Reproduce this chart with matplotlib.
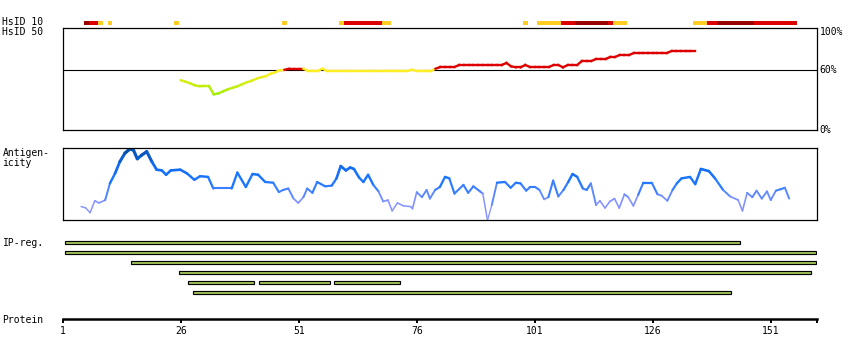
import numpy as np
import matplotlib
matplotlib.use('Agg')
import matplotlib.pyplot as plt
from matplotlib.collections import LineCollection
from matplotlib.colors import LinearSegmentedColormap

W, H = 850, 360
X0, X1 = 62.7, 817.0      # pixel span of the residue axis
XMAX = 160.8              # residue at right edge
OFF = 0.55                # bars/blocks start a bit right of the tick
FONT = 'DejaVu Sans Mono'
FS = 7

# HsID 10 blocks (residues, inclusive)
hsid10_start = [5, 6, 8, 10, 24, 47, 59, 60, 68, 98, 101, 106, 109, 116, 117, 134, 137, 139, 147]
hsid10_end = [5, 7, 8, 10, 24, 47, 59, 67, 69, 98, 105, 108, 115, 116, 119, 136, 138, 146, 155]
hsid10_level = ['dark', 'red', 'orange', 'orange', 'orange', 'orange', 'orange', 'red', 'orange',
                'orange', 'orange', 'red', 'dark', 'red', 'orange', 'orange', 'red', 'dark', 'red']

# HsID 50 (% identity), residues 26..135
hsid50_pos = list(range(26, 136))
hsid50_val = [50, 48.6, 47, 45, 44, 44, 44, 36, 37, 39,
              41, 42.5, 44, 46, 48, 49.5, 51.5, 53, 54, 56.5,
              58, 60, 60.5, 61.6, 61.6, 61.6, 61.6, 59.3, 59.3, 59.3,
              61.6, 59.3, 59.3, 59.3, 59.3, 59.3, 59.3, 59.3, 59.3, 59.3,
              59.3, 59.3, 59.3, 59.3, 59.3, 59.3, 59.3, 59.3, 59.3, 60.5,
              59.3, 59.3, 59.3, 59.3, 61.6, 63.3, 63.3, 63.3, 63.3, 65.3,
              65.3, 65.3, 65.3, 65.3, 65.3, 65.3, 65.3, 65.3, 65.3, 67.3,
              64, 63, 63, 65.3, 63.3, 63.3, 63.3, 63.3, 63.3, 65.3,
              65.3, 63, 65.3, 65.3, 65.3, 69.3, 69.3, 69.3, 71.3, 71.3,
              71.3, 73.3, 73.3, 75.3, 75.3, 75.3, 77.3, 77.3, 77.3, 77.3,
              77.3, 77.3, 77.3, 77.3, 79.3, 79.3, 79.3, 79.3, 79.3, 79.3]

# Antigenicity (relative 0..1)
ag_pos = [4.9, 5.9, 6.8, 7.8, 8.7, 10.0, 11.0, 12.1, 13.1, 14.2,
          15.3, 16.0, 16.8, 17.7, 18.8, 19.9, 20.9, 22.0, 22.9, 23.9,
          25.9, 27.3, 28.9, 30.1, 31.8, 32.9, 36.8, 38.0, 39.8, 41.2,
          42.4, 43.9, 45.6, 46.8, 47.7, 48.8, 49.9, 50.9, 52.0, 52.8,
          53.9, 54.9, 56.6, 58.0, 59.0, 59.9, 61.0, 61.9, 62.7, 63.8,
          64.7, 65.7, 66.8, 67.9, 68.9, 69.9, 70.8, 71.9, 73.2, 74.7,
          75.1, 76.0, 77.1, 78.1, 78.8, 79.9, 80.9, 82.0, 82.9, 84.0,
          85.9, 86.9, 88.0, 89.4, 90.0, 91.0, 91.9, 93.0, 94.7, 95.9,
          97.0, 98.0, 99.2, 100.0, 101.1, 102.0, 103.0, 103.9, 104.9, 106.0,
          107.1, 108.1, 109.0, 110.0, 111.2, 112.0, 112.9, 114.0, 114.8, 115.9,
          116.9, 117.9, 118.9, 120.0, 120.8, 121.9, 122.9, 124.0, 125.8, 127.0,
          127.9, 129.1, 130.2, 131.1, 132.1, 133.9, 135.0, 136.2, 137.9, 139.2,
          140.9, 142.4, 144.1, 145.0, 146.0, 147.1, 148.0, 149.1, 150.2, 151.0,
          152.1, 153.1, 154.0, 154.9]
ag_val = [0.19, 0.17, 0.105, 0.27, 0.24, 0.28, 0.51, 0.65, 0.81, 0.93,
          0.99, 0.97, 0.85, 0.90, 0.95, 0.81, 0.70, 0.69, 0.63, 0.69,
          0.70, 0.65, 0.56, 0.61, 0.60, 0.44, 0.44, 0.66, 0.46, 0.64,
          0.63, 0.53, 0.52, 0.39, 0.42, 0.44, 0.30, 0.24, 0.32, 0.44,
          0.38, 0.53, 0.47, 0.48, 0.58, 0.75, 0.69, 0.73, 0.71, 0.59,
          0.53, 0.63, 0.49, 0.40, 0.26, 0.28, 0.13, 0.24, 0.20, 0.19,
          0.16, 0.39, 0.32, 0.42, 0.30, 0.42, 0.46, 0.60, 0.58, 0.37,
          0.49, 0.38, 0.47, 0.40, 0.37, 0.00, 0.21, 0.52, 0.53, 0.45,
          0.52, 0.51, 0.41, 0.46, 0.46, 0.42, 0.29, 0.32, 0.55, 0.33,
          0.42, 0.53, 0.64, 0.60, 0.44, 0.42, 0.51, 0.21, 0.27, 0.17,
          0.26, 0.30, 0.17, 0.36, 0.32, 0.20, 0.35, 0.52, 0.52, 0.36,
          0.34, 0.27, 0.42, 0.51, 0.58, 0.60, 0.50, 0.71, 0.68, 0.58,
          0.42, 0.33, 0.28, 0.13, 0.38, 0.32, 0.41, 0.30, 0.40, 0.28,
          0.41, 0.43, 0.45, 0.30]

# IP regions
ip_row = [0, 1, 2, 3, 4, 4, 4, 5]
ip_start = [1, 1, 15, 25, 27, 42, 58, 28]
ip_end = [144, 160, 160, 159, 41, 57, 72, 142]

tick_res = [1, 26, 51, 76, 101, 126, 151]

LEVEL_COLORS = {'dark': '#990000', 'red': '#DD0000', 'orange': '#FFCC22'}
RED = '#DD0000'
hs_cmap = LinearSegmentedColormap.from_list('hs', ['#A0EE00', '#FFEE22'])
ag_cmap = LinearSegmentedColormap.from_list(
    'ag', [(0.0, '#9696FF'), (0.3, '#7F92FF'), (0.42, '#3F80FF'),
           (0.55, '#1A77FF'), (0.8, '#1166EE'), (1.0, '#004C9C')])


def px_axes(fig, y0, y1, x0=X0, x1=X1):
    ax = fig.add_axes([x0 / W, 1 - y1 / H, (x1 - x0) / W, (y1 - y0) / H])
    ax.set_xlim(1, XMAX)
    ax.set_xticks([])
    ax.set_yticks([])
    return ax


def label(x, y, s, **kw):
    fig.text(x / W, 1 - y / H, s, va='center', ha='left', family=FONT, size=FS, **kw)


def hs_color(v):
    if v >= 61:
        return RED
    return hs_cmap(np.clip((v - 36) / 22.0, 0, 1))


fig = plt.figure(figsize=(W / 100, H / 100), dpi=100)

# --- HsID 10 strip
ax = px_axes(fig, 20.6, 25.0)
ax.axis('off')
for s, e, lv in zip(hsid10_start, hsid10_end, hsid10_level):
    ax.axvspan(s + OFF, e + 1 + OFF, color=LEVEL_COLORS[lv], lw=0)

# --- HsID 50 panel
ax = px_axes(fig, 28.3, 130.3)
ax.set_ylim(0, 102)
for sp in ax.spines.values():
    sp.set_linewidth(0.9)
ax.axhline(60, color='black', lw=0.8, zorder=1)
x = np.array(hsid50_pos, dtype=float)
y = np.array(hsid50_val, dtype=float)
segs = np.stack([np.column_stack([x[:-1], y[:-1]]), np.column_stack([x[1:], y[1:]])], axis=1)
cols = [hs_color((a + b) / 2) for a, b in zip(y[:-1], y[1:])]
ax.add_collection(LineCollection(segs, colors=cols, linewidths=1.7, capstyle='projecting', zorder=3))

# --- Antigenicity panel
ax = px_axes(fig, 148.0, 220.3)
ax.set_ylim(0, 1)
for sp in ax.spines.values():
    sp.set_linewidth(0.9)
x = np.array(ag_pos)
y = np.array(ag_val)
segs = np.stack([np.column_stack([x[:-1], y[:-1]]), np.column_stack([x[1:], y[1:]])], axis=1)
mid = (y[:-1] + y[1:]) / 2
ax.add_collection(LineCollection(segs, colors=ag_cmap(mid), linewidths=0.8 + 1.6 * mid,
                                 capstyle='round', joinstyle='round'))

# --- IP regions
ax = px_axes(fig, 237.3, 297.3)
ax.axis('off')
ax.set_ylim(6, 0)
for r, s, e in zip(ip_row, ip_start, ip_end):
    ax.barh(r + 0.5, e - s, left=s + OFF, height=0.33, color='#A5C95C',
            edgecolor='black', linewidth=0.85)

# --- Protein axis
ax = px_axes(fig, 300, 318.8)
for k in ['top', 'left', 'right']:
    ax.spines[k].set_visible(False)
ax.spines['bottom'].set_linewidth(1.8)
ax.set_xticks(tick_res + [XMAX])
ax.set_xticklabels([str(t) for t in tick_res] + [''], family=FONT, fontsize=FS)
ax.tick_params(axis='x', length=3.0, width=1.4, pad=2.5)
ax.patch.set_alpha(0)

# --- labels
label(2.5, 22.3, 'HsID 10')
label(2.5, 32.2, 'HsID 50')
label(2.5, 153.5, 'Antigen-')
label(2.5, 162.8, 'icity')
label(2.5, 243.0, 'IP-reg.')
label(2.5, 319.8, 'Protein')
label(819.5, 31.8, '100%')
label(819.5, 70.3, '60%')
label(819.5, 130.0, '0%')

fig.savefig('out.png', dpi=100)
